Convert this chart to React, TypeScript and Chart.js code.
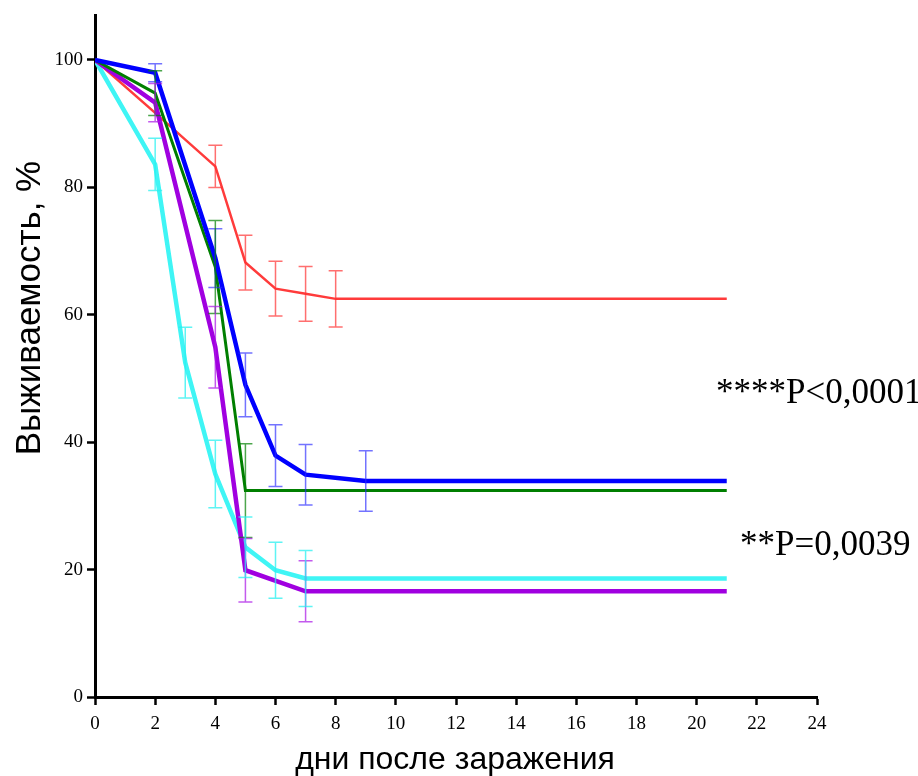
import React, { useEffect, useRef } from "react";
import { Chart, registerables } from "chart.js";

Chart.register(...registerables);

// ---- data ----
const xTicks = [0, 2, 4, 6, 8, 10, 12, 14, 16, 18, 20, 22, 24];
const yTicks = [0, 20, 40, 60, 80, 100];

const blueDays = [0, 2, 4, 5, 6, 7, 9, 21];
const blueValues = [100, 98.0, 68.9, 49.0, 37.9, 34.9, 33.9, 33.9];
const blueErrors = [0, 1.4, 4.6, 5.0, 4.85, 4.75, 4.75, 0];

const greenDays = [0, 2, 4, 5, 21];
const greenValues = [100, 94.8, 67.5, 32.4, 32.4];
const greenErrors = [0, 3.5, 7.3, 7.35, 0];

const purpleDays = [0, 2, 4, 5, 7, 21];
const purpleValues = [100, 93.3, 54.9, 19.9, 16.6, 16.6];
const purpleErrors = [0, 3.0, 6.4, 5.0, 4.8, 0];

const redDays = [0, 2, 4, 5, 6, 7, 8, 21];
const redValues = [100, 91.7, 83.3, 68.2, 64.1, 63.3, 62.5, 62.5];
const redErrors = [0, 0, 3.3, 4.3, 4.3, 4.3, 4.4, 0];

const cyanDays = [0, 2, 3, 4, 5, 6, 7, 21];
const cyanValues = [100, 83.6, 52.5, 35.0, 23.5, 19.9, 18.6, 18.6];
const cyanErrors = [0, 4.1, 5.55, 5.3, 4.75, 4.4, 4.4, 0];

const annotations = ["****P<0,0001", "**P=0,0039"];
const xTitle = "дни после заражения";
const yTitle = "Выживаемость, %";

const toPoints = (days: number[], vals: number[]) =>
  days.map((d, i) => ({ x: d, y: vals[i] }));

const errorBarPlugin = {
  id: "errorBars",
  afterDatasetsDraw(chart: any) {
    const { ctx, scales } = chart;
    const xs = scales.x;
    const ys = scales.y;
    chart.data.datasets.forEach((ds: any) => {
      const errs: number[] = ds.errors || [];
      ctx.save();
      ctx.strokeStyle = ds.errorColor;
      ctx.lineWidth = 1.5;
      ds.data.forEach((p: any, i: number) => {
        const e = errs[i];
        if (!e) return;
        const px = xs.getPixelForValue(p.x);
        const top = ys.getPixelForValue(p.y + e);
        const bot = ys.getPixelForValue(p.y - e);
        ctx.beginPath();
        ctx.moveTo(px, top);
        ctx.lineTo(px, bot);
        ctx.moveTo(px - 7, top);
        ctx.lineTo(px + 7, top);
        ctx.moveTo(px - 7, bot);
        ctx.lineTo(px + 7, bot);
        ctx.stroke();
      });
      ctx.restore();
    });
  },
};

const textPlugin = {
  id: "texts",
  afterDraw(chart: any) {
    const { ctx } = chart;
    ctx.save();
    ctx.fillStyle = "#000";
    ctx.textAlign = "center";
    ctx.textBaseline = "middle";
    ctx.font = '32px "Liberation Sans", Arial, sans-serif';
    ctx.fillText(xTitle, 455, 760);
    ctx.save();
    ctx.translate(30, 308);
    ctx.rotate(-Math.PI / 2);
    ctx.font = '35px "Liberation Sans", Arial, sans-serif';
    ctx.fillText(yTitle, 0, 0);
    ctx.restore();
    ctx.font = '35px "Liberation Serif", "Times New Roman", serif';
    ctx.textAlign = "left";
    ctx.textBaseline = "alphabetic";
    ctx.fillText(annotations[0], 716, 403);
    ctx.fillText(annotations[1], 740, 555);
    ctx.restore();
  },
};

export default function App() {
  const ref = useRef<HTMLCanvasElement>(null);
  useEffect(() => {
    if (!ref.current) return;
    const mk = (label: string, days: number[], vals: number[], errs: number[], color: string, errColor: string, width: number) => ({
      label,
      data: toPoints(days, vals),
      errors: errs,
      errorColor: errColor,
      borderColor: color,
      backgroundColor: color,
      borderWidth: width,
      pointRadius: 0,
      tension: 0,
      fill: false,
    });
    const tickFont = { family: '"Liberation Serif", "Times New Roman", serif', size: 19 };
    const chart = new Chart(ref.current, {
      type: "line",
      data: {
        datasets: [
          mk("blue", blueDays, blueValues, blueErrors, "#0000ff", "rgba(40,40,255,0.65)", 4.5),
          mk("green", greenDays, greenValues, greenErrors, "#007f00", "rgba(0,128,0,0.7)", 3),
          mk("purple", purpleDays, purpleValues, purpleErrors, "#a000e0", "rgba(170,20,230,0.7)", 4.5),
          mk("red", redDays, redValues, redErrors, "#ff3b3b", "rgba(255,50,50,0.7)", 2.5),
          mk("cyan", cyanDays, cyanValues, cyanErrors, "#3ff5f5", "rgba(40,240,240,0.75)", 4.5),
        ] as any,
      },
      options: {
        animation: false,
        responsive: false,
        maintainAspectRatio: false,
        layout: { padding: { left: 0, right: 101, top: 15, bottom: 0 } },
        plugins: { legend: { display: false }, tooltip: { enabled: false } },
        scales: {
          x: {
            type: "linear",
            min: 0,
            max: 24,
            afterFit: (s: any) => { s.height = 79; },
            afterBuildTicks: (s: any) => { s.ticks = xTicks.map((v) => ({ value: v })); },
            ticks: { color: "#000", padding: 8, font: tickFont },
            grid: { display: true, drawOnChartArea: false, drawTicks: true, tickLength: 8, tickColor: "#000", tickWidth: 2.5 },
            border: { display: true, color: "#000", width: 3 },
          },
          y: {
            type: "linear",
            min: 0,
            max: 107,
            afterFit: (s: any) => { s.width = 95; },
            afterBuildTicks: (s: any) => { s.ticks = yTicks.map((v) => ({ value: v })); },
            ticks: { color: "#000", padding: 4, font: tickFont },
            grid: { display: true, drawOnChartArea: false, drawTicks: true, tickLength: 8, tickColor: "#000", tickWidth: 2.5 },
            border: { display: true, color: "#000", width: 3 },
          },
        },
      } as any,
      plugins: [errorBarPlugin, textPlugin],
    });
    return () => chart.destroy();
  }, []);
  return (
    <div style={{ position: "fixed", left: 0, top: 0, width: 918, height: 776, background: "#fff" }}>
      <canvas ref={ref} width={918} height={776} style={{ width: 918, height: 776 }} />
    </div>
  );
}
